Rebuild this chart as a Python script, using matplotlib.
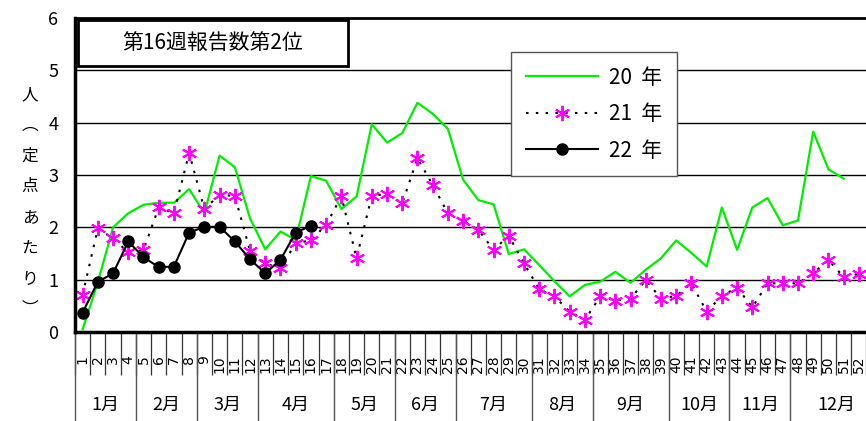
import numpy as np
import matplotlib
matplotlib.use("Agg")
import matplotlib.pyplot as plt
from matplotlib.patches import Rectangle

plt.rcParams['font.family'] = ['Noto Sans CJK JP', 'DejaVu Sans']

# weekly reports per sentinel
v20 = [0.05, 0.95, 2.0, 2.27, 2.43, 2.47, 2.47, 2.73, 2.27, 3.37,
       3.15, 2.17, 1.58, 1.92, 1.76, 2.98, 2.89, 2.35, 2.59, 3.97,
       3.62, 3.80, 4.38, 4.17, 3.88, 2.91, 2.52, 2.44, 1.49, 1.58,
       1.28, 0.97, 0.68, 0.90, 0.96, 1.15, 0.94, 1.19, 1.41, 1.75,
       1.51, 1.25, 2.38, 1.57, 2.38, 2.56, 2.04, 2.13, 3.83, 3.11,
       2.93]
v21 = [0.71, 1.98, 1.79, 1.52, 1.57, 2.38, 2.27, 3.42, 2.35, 2.62,
       2.60, 1.55, 1.31, 1.22, 1.70, 1.75, 2.05, 2.59, 1.41, 2.60,
       2.64, 2.46, 3.32, 2.81, 2.27, 2.13, 1.95, 1.57, 1.84, 1.31,
       0.82, 0.68, 0.39, 0.23, 0.68, 0.60, 0.64, 0.99, 0.64, 0.69,
       0.93, 0.39, 0.69, 0.85, 0.47, 0.93, 0.93, 0.93, 1.12, 1.38,
       1.05, 1.11]
v22 = [0.37, 0.96, 1.12, 1.73, 1.43, 1.24, 1.25, 1.90, 2.01, 2.01,
       1.73, 1.39, 1.12, 1.38, 1.90, 2.03]

weeks = np.arange(1, 54)
month_names = ['1月', '2月', '3月', '4月', '5月', '6月',
               '7月', '8月', '9月', '10月', '11月', '12月']
month_weeks = [4, 4, 4, 5, 4, 4, 5, 4, 5, 4, 4, 6]

W, H = 866, 421
fig = plt.figure(figsize=(W / 100, H / 100), dpi=100)
# axes runs past the right edge like the reference crop
ax = fig.add_axes([75 / W, 89 / H, 806.7 / W, 314 / H])

ax.plot(np.arange(1, len(v20) + 1), v20, color='#00ee00', lw=1.6, label='20  年')
ax.plot(np.arange(1, len(v21) + 1), v21, color='black', lw=1.5,
        linestyle=(0, (1.2, 3.5)), marker=(6, 2, 0), markersize=11,
        markeredgecolor='#ff00ff', markerfacecolor='#ff00ff', markeredgewidth=1.4,
        label='21  年')
ax.plot(np.arange(1, len(v22) + 1), v22, color='black', lw=1.5,
        marker='o', markersize=8, markerfacecolor='black', label='22  年')

ax.set_xlim(0.5, 53.5)
ax.set_ylim(0, 6)

for y in range(1, 6):
    ax.axhline(y, color='black', lw=1.0, zorder=0)

ax.spines['right'].set_visible(False)
ax.spines['left'].set_linewidth(2.5)
ax.spines['bottom'].set_linewidth(2.5)
ax.spines['top'].set_linewidth(2.0)

ax.set_yticks(range(7))
ax.tick_params(axis='y', length=0, pad=12, labelsize=13)

# week 53 sits past the picture edge, so it gets no label
ax.set_xticks(weeks)
ax.set_xticklabels([str(w) if w < 53 else '' for w in weeks], family='DejaVu Sans')
ax.tick_params(axis='x', which='major', length=0, pad=17, labelsize=10,
               labelrotation=90)
ax.set_xticks(np.arange(0.5, 54, 1), minor=True)
ax.tick_params(axis='x', which='minor', length=31, width=0.9, color='#333333',
               direction='out')

# month separators and labels below the axis
bounds = np.concatenate([[0.5], 0.5 + np.cumsum(month_weeks)])
trans = ax.get_xaxis_transform()
for b in bounds:
    ax.plot([b, b], [0, -0.3], transform=trans, color='#555555', lw=1.0,
            clip_on=False)
for i, name in enumerate(month_names):
    mid = (bounds[i] + bounds[i + 1]) / 2
    ax.text(mid, -(405 - 332) / 314, name, transform=trans, ha='center',
            va='center', fontsize=13)

# y label written vertically
ylab = ['人', '︵', '定', '点', 'あ', 'た', 'り', '︶']
fig.text(30 / W, 1 - 202 / H, '\n'.join(ylab), ha='center', va='center',
         fontsize=12, linespacing=2.05)

# rank box
fig.patches.append(Rectangle((78 / W, 1 - 66 / H), 270 / W, 46 / H,
                             transform=fig.transFigure, facecolor='white',
                             edgecolor='black', lw=2, zorder=5))
fig.text(213 / W, 1 - 43 / H, '第16週報告数第2位', ha='center', va='center',
         fontsize=15, zorder=6)

leg = ax.legend(loc='upper left', bbox_to_anchor=(511 / W, 1 - 52 / H),
                bbox_transform=fig.transFigure, fontsize=15, frameon=True,
                fancybox=False, edgecolor='#555555', framealpha=1,
                handlelength=3.5, handletextpad=0.5, borderpad=0.7,
                labelspacing=0.7, borderaxespad=0, numpoints=1)
leg.get_frame().set_linewidth(1.0)

fig.savefig('out.png', dpi=100)
